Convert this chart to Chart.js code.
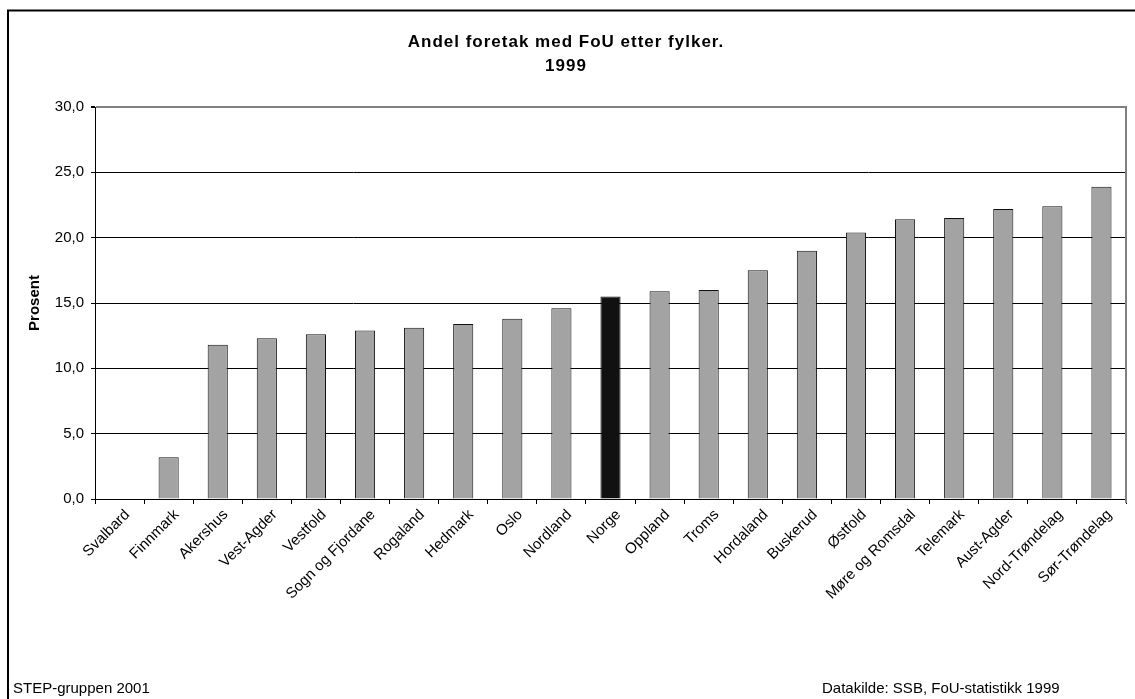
<!DOCTYPE html>
<html>
<head>
<meta charset="utf-8">
<script src="https://cdn.jsdelivr.net/npm/chart.js@4.4.1/dist/chart.umd.min.js"></script>
<style>
  html, body { margin: 0; padding: 0; background: #fff; }
  #wrap { width: 1135px; height: 699px; }
</style>
</head>
<body>
<div id="wrap"><canvas id="c" width="1135" height="699"></canvas></div>
<script>
// Andel foretak med FoU etter fylker, 1999 (prosent)
const categories = [
  'Svalbard', 'Finnmark', 'Akershus', 'Vest-Agder', 'Vestfold', 'Sogn og Fjordane',
  'Rogaland', 'Hedmark', 'Oslo', 'Nordland', 'Norge', 'Oppland', 'Troms',
  'Hordaland', 'Buskerud', 'Østfold', 'Møre og Romsdal', 'Telemark',
  'Aust-Agder', 'Nord-Trøndelag', 'Sør-Trøndelag'
];
const shares = [
  0.0, 3.2, 11.8, 12.3, 12.6, 12.9,
  13.1, 13.4, 13.8, 14.6, 15.5, 15.9, 16.0,
  17.5, 19.0, 20.4, 21.4, 21.5,
  22.2, 22.4, 23.9
];
const titleLines = ['Andel foretak med FoU etter fylker.', '1999'];
const yAxisTitle = 'Prosent';
const footerLeft = 'STEP-gruppen 2001';
const footerRight = 'Datakilde: SSB, FoU-statistikk 1999';
const highlight = 'Norge';

const FONT = "'Liberation Sans', Arial, sans-serif";

// Title, outer frame, grey right edge of the plot area and footer notes
const decorations = {
  id: 'decorations',
  afterDraw(chart) {
    const ctx = chart.ctx;
    const a = chart.chartArea;
    ctx.save();
    // outer frame (top and left edges)
    ctx.strokeStyle = '#000';
    ctx.lineWidth = 2;
    ctx.beginPath();
    ctx.moveTo(8, 700);
    ctx.lineTo(8, 10.5);
    ctx.lineTo(1136, 10.5);
    ctx.stroke();
    // plot area right edge
    ctx.strokeStyle = '#808080';
    ctx.lineWidth = 2;
    ctx.beginPath();
    ctx.moveTo(a.right, a.top - 1);
    ctx.lineTo(a.right, a.bottom + 4);
    ctx.stroke();
    // title, two centred lines
    ctx.fillStyle = '#000';
    ctx.textAlign = 'center';
    ctx.textBaseline = 'middle';
    ctx.font = 'bold 17px ' + FONT;
    if ('letterSpacing' in ctx) ctx.letterSpacing = '1px';
    ctx.fillText(titleLines[0], 566, 42);
    ctx.fillText(titleLines[1], 566, 66);
    if ('letterSpacing' in ctx) ctx.letterSpacing = '0px';
    // footer notes
    ctx.font = '15px ' + FONT;
    ctx.textBaseline = 'alphabetic';
    ctx.textAlign = 'left';
    ctx.fillText(footerLeft, 13, 693);
    ctx.fillText(footerRight, 822, 693);
    ctx.restore();
  }
};

new Chart(document.getElementById('c'), {
  type: 'bar',
  data: {
    labels: categories,
    datasets: [{
      data: shares,
      backgroundColor: categories.map(c => c === highlight ? '#111111' : '#a3a3a3'),
      borderColor: '#111',
      borderWidth: 1,
      barPercentage: 0.41,
      categoryPercentage: 1.0
    }]
  },
  options: {
    responsive: false,
    animation: false,
    devicePixelRatio: 1,
    layout: { padding: { left: 0, right: 9, top: 107, bottom: 0 } },
    plugins: {
      legend: { display: false },
      tooltip: { enabled: false },
      title: { display: false }
    },
    scales: {
      x: {
        afterFit(scale) { scale.height = 200; },
        grid: {
          display: true,
          drawOnChartArea: false,
          offset: true,
          tickLength: 5,
          color: '#000',
          tickColor: '#000'
        },
        border: { display: true, color: '#000', width: 1 },
        ticks: {
          color: '#000',
          font: { family: FONT, size: 15 },
          minRotation: 45,
          maxRotation: 45,
          autoSkip: false,
          padding: 2,
          labelOffset: 8
        }
      },
      y: {
        min: 0,
        max: 30,
        afterFit(scale) { scale.width = 95; },
        grid: {
          color: ctx => ctx.tick && ctx.tick.value === 30 ? '#808080' : '#000',
          lineWidth: ctx => ctx.tick && ctx.tick.value === 30 ? 2 : 1,
          tickLength: 4,
          tickColor: '#000'
        },
        border: { display: true, color: '#000', width: 1 },
        ticks: {
          stepSize: 5,
          color: '#000',
          padding: 7,
          font: { family: FONT, size: 15 },
          callback: v => v.toFixed(1).replace('.', ',')
        },
        title: {
          display: true,
          text: yAxisTitle,
          color: '#000',
          font: { family: FONT, size: 15, weight: 'bold' },
          padding: { top: 26, bottom: 0 }
        }
      }
    }
  },
  plugins: [decorations]
});
</script>
</body>
</html>
